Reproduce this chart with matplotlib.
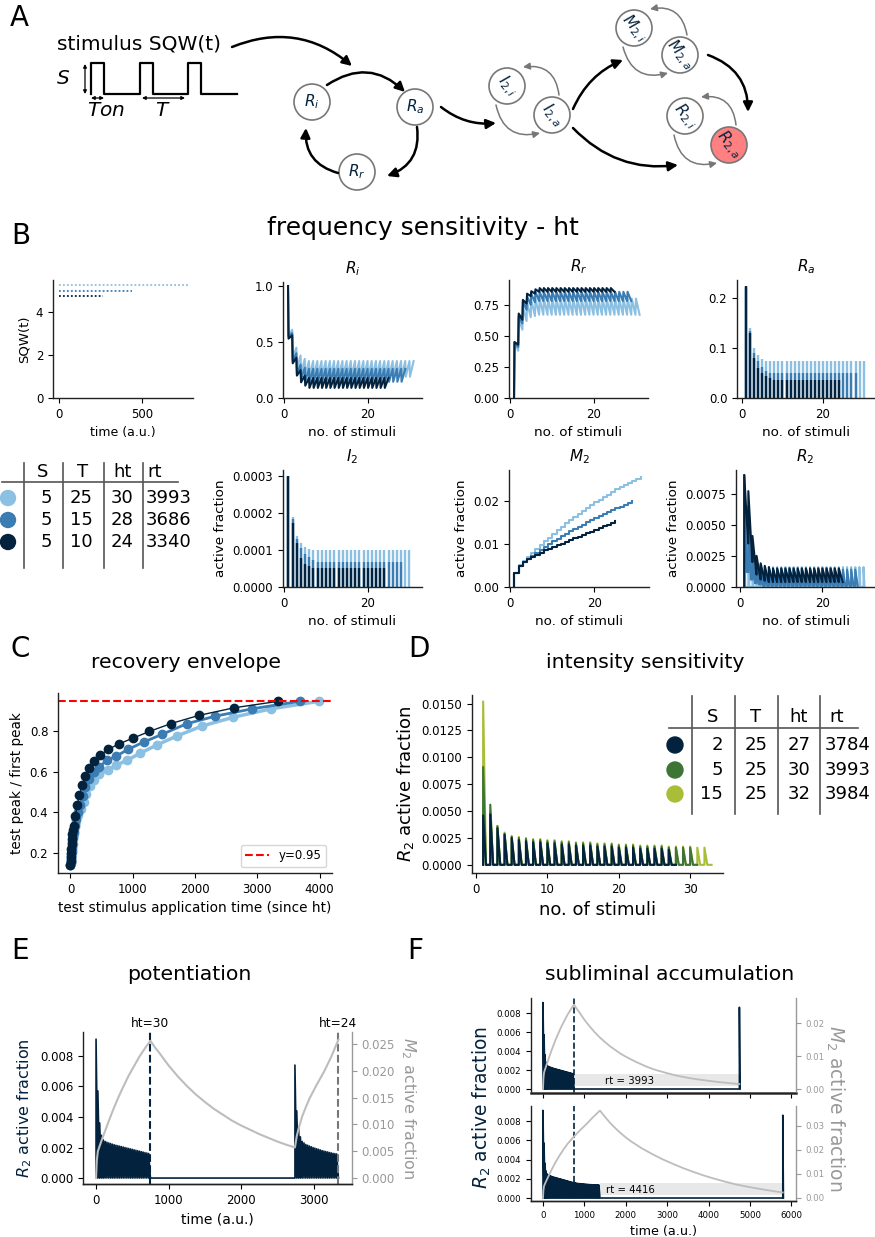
import numpy as np
import matplotlib
matplotlib.use("Agg")
import matplotlib.pyplot as plt
from matplotlib.patches import Circle, FancyArrowPatch, Rectangle
from matplotlib.ticker import FormatStrFormatter

# ---------------- values ----------------
# B : frequency sensitivity  (order: light, mid, dark)
freq_S = [5, 5, 5]
freq_T = [25, 15, 10]
freq_ht = [30, 28, 24]
freq_rt = [3993, 3686, 3340]
sqw_end = [775, 440, 265]

ri_hi = [[1.0, 0.61, 0.45, 0.38, 0.35] + [0.33] * 26,
         [1.0, 0.58, 0.40, 0.30, 0.27] + [0.26] * 24,
         [1.0, 0.56, 0.36, 0.25, 0.20] + [0.18] * 20]
ri_lo = [[0.56, 0.36, 0.26, 0.21, 0.20] + [0.19] * 25,
         [0.55, 0.33, 0.22, 0.17, 0.15] + [0.145] * 23,
         [0.53, 0.31, 0.20, 0.14, 0.11] + [0.09] * 19]

rr_lo = [[0.0, 0.38, 0.55, 0.62, 0.65, 0.66] + [0.67] * 25,
         [0.0, 0.41, 0.60, 0.71, 0.75, 0.77] + [0.78] * 23,
         [0.0, 0.43, 0.63, 0.76, 0.82, 0.84] + [0.855] * 19]
rr_hi = [[0.45, 0.64, 0.74, 0.77, 0.79] + [0.80] * 25,
         [0.45, 0.66, 0.78, 0.82, 0.84] + [0.855] * 23,
         [0.45, 0.68, 0.79, 0.84, 0.86, 0.875] + [0.885] * 18]

ra_peak = [[0.22, 0.14, 0.10, 0.087, 0.079] + [0.075] * 25,
           [0.222, 0.135, 0.09, 0.075, 0.062, 0.055] + [0.05] * 22,
           [0.225, 0.13, 0.08, 0.06, 0.05, 0.045, 0.04] + [0.036] * 17]

i2_peak = [[0.00030, 0.000188, 0.000138, 0.000118, 0.000108, 0.000103] + [0.0001] * 24,
           [0.00030, 0.000185, 0.00013, 0.000105, 0.000088, 0.00008, 0.000072] + [0.000067] * 21,
           [0.00030, 0.000172, 0.00012, 0.000078, 0.000062, 0.000056, 0.000052] + [0.00005] * 17]

m2_level = [[0.0032, 0.0050, 0.0060, 0.0070, 0.0079, 0.0088, 0.0097, 0.0106, 0.0115, 0.0124,
             0.0132, 0.0140, 0.0148, 0.0156, 0.0163, 0.0170, 0.0177, 0.0184, 0.0191, 0.0197,
             0.0203, 0.0209, 0.0215, 0.0221, 0.0227, 0.0232, 0.0237, 0.0242, 0.0247, 0.0252, 0.0256],
            [0.0032, 0.0049, 0.0058, 0.0066, 0.0073, 0.0080, 0.0087, 0.0094, 0.0100, 0.0106,
             0.0112, 0.0118, 0.0124, 0.0130, 0.0135, 0.0140, 0.0145, 0.0150, 0.0155, 0.0160,
             0.0165, 0.0170, 0.0174, 0.0178, 0.0183, 0.0187, 0.0191, 0.0196, 0.0200],
            [0.0032, 0.0049, 0.0057, 0.0064, 0.0070, 0.0075, 0.0080, 0.0085, 0.0089, 0.0093,
             0.0097, 0.0101, 0.0105, 0.0109, 0.0113, 0.0117, 0.0121, 0.0125, 0.0129, 0.0133,
             0.0137, 0.0141, 0.0145, 0.0149, 0.0153]]

r2_hi = [[0.0090, 0.0048, 0.0027, 0.0021, 0.0018] + [0.0016] * 25,
         [0.0090, 0.0065, 0.0033, 0.0021, 0.0017] + [0.0014] * 23,
         [0.0090, 0.0077, 0.0041, 0.0025, 0.0019, 0.0017, 0.0016] + [0.0015] * 17]
r2_lo = [[0.0] * 30,
         [0.0012, 0.0006, 0.0003, 0.0002] + [0.0001] * 24,
         [0.0035, 0.0020, 0.0010, 0.0006, 0.0005] + [0.0004] * 19]

# C : recovery envelope
rec_t = [[0, 4, 8, 13, 18, 25, 33, 43, 56, 72, 95, 125, 165, 213, 256, 309, 373, 464, 597,
          736, 907, 1120, 1387, 1707, 2107, 2613, 3227, 3993],
         [0, 4, 8, 13, 18, 24, 31, 40, 52, 68, 90, 120, 160, 203, 240, 293, 373, 464, 587,
          736, 923, 1173, 1467, 1867, 2320, 2923, 3686],
         [0, 3, 6, 10, 14, 19, 25, 32, 42, 53, 80, 107, 144, 187, 240, 293, 379, 480, 603,
          784, 997, 1269, 1616, 2059, 2629, 3340]]
rec_y = [[0.14, 0.15, 0.165, 0.18, 0.20, 0.22, 0.245, 0.27, 0.295, 0.325, 0.355, 0.385, 0.415,
          0.449, 0.490, 0.530, 0.560, 0.588, 0.609, 0.633, 0.657, 0.692, 0.733, 0.777, 0.826,
          0.870, 0.912, 0.949],
         [0.14, 0.155, 0.17, 0.19, 0.21, 0.23, 0.255, 0.28, 0.305, 0.335, 0.365, 0.40, 0.435,
          0.481, 0.523, 0.567, 0.600, 0.626, 0.657, 0.678, 0.711, 0.747, 0.785, 0.838, 0.875,
          0.912, 0.949],
         [0.14, 0.16, 0.18, 0.20, 0.22, 0.245, 0.27, 0.295, 0.315, 0.333, 0.383, 0.435, 0.485,
          0.534, 0.580, 0.621, 0.654, 0.683, 0.711, 0.739, 0.766, 0.800, 0.839, 0.879, 0.917,
          0.949]]

# D : intensity sensitivity (order: dark S=2, green S=5, yellow S=15)
int_S = [2, 5, 15]
int_T = [25, 25, 25]
int_ht = [27, 30, 32]
int_rt = [3784, 3993, 3984]
int_peak = [[0.0046, 0.0047, 0.0034, 0.0028, 0.0025, 0.0023, 0.0022, 0.0021, 0.0021, 0.0020,
             0.0020, 0.0019, 0.0019, 0.0018, 0.0018, 0.0018, 0.0017, 0.0017, 0.0017, 0.0016,
             0.0016, 0.0016, 0.0015, 0.0015, 0.0015, 0.0015, 0.0014],
            [0.0091, 0.0056, 0.0036, 0.0029, 0.0026, 0.0025, 0.0024, 0.0023, 0.0023, 0.0022,
             0.0022, 0.0021, 0.0021, 0.0020, 0.0020, 0.0020, 0.0019, 0.0019, 0.0019, 0.0018,
             0.0018, 0.0018, 0.0017, 0.0017, 0.0017, 0.0017, 0.0016, 0.0016, 0.0016, 0.0016],
            [0.0152, 0.0050, 0.0036, 0.0030, 0.0027, 0.0026, 0.0025, 0.0024, 0.0024, 0.0023,
             0.0023, 0.0022, 0.0022, 0.0021, 0.0021, 0.0021, 0.0020, 0.0020, 0.0020, 0.0019,
             0.0019, 0.0019, 0.0018, 0.0018, 0.0018, 0.0018, 0.0017, 0.0017, 0.0017, 0.0017,
             0.0016, 0.0016]]

# E / F : R2 peaks per stimulus (T = 25)
stim_T = 25
block1_peak = [0.0091, 0.0057, 0.0036, 0.0028, 0.0025, 0.0024, 0.00235, 0.0023, 0.00226, 0.00222,
               0.00218, 0.00215, 0.00212, 0.00209, 0.00206, 0.00203, 0.0020, 0.00197, 0.00194,
               0.00191, 0.00188, 0.00185, 0.00182, 0.00179, 0.00176, 0.00173, 0.0017, 0.00167,
               0.00164, 0.00161]
block2_peak = [0.0074, 0.0044, 0.0033, 0.0027, 0.0024, 0.0023, 0.0022, 0.00215, 0.0021, 0.00205,
               0.0020, 0.00196, 0.00192, 0.00188, 0.00184, 0.0018, 0.00177, 0.00174, 0.00171,
               0.00168, 0.00165, 0.00162, 0.0016, 0.00158]
long_extra_peak = [0.00159, 0.00157, 0.00155, 0.00153, 0.00151, 0.0015, 0.00149, 0.00148, 0.00147,
                   0.00146, 0.00145, 0.00144, 0.00143, 0.00142, 0.00141, 0.0014, 0.00139, 0.00139,
                   0.00138, 0.00138, 0.00137, 0.00137, 0.00136, 0.00136, 0.00135]
e_gap = 1993
test_peak = [0.0086, 0.0086]
f_rt = [3993, 4416]

m2_rise_t = [0, 10, 25, 50, 100, 150, 200, 250, 300, 350, 400, 450, 500, 550, 600, 650, 700, 750]
m2_rise_v = [0, 0.0032, 0.0050, 0.0060, 0.0079, 0.0097, 0.0115, 0.0132, 0.0148, 0.0163, 0.0177,
             0.0191, 0.0203, 0.0215, 0.0227, 0.0237, 0.0247, 0.0256]
m2_decay_dt = [0, 60, 125, 250, 375, 500, 625, 750, 875, 1000, 1125, 1250, 1375, 1500, 1625,
               1750, 1875, 1993, 2250, 2500, 2750, 3000, 3250, 3500, 3750, 3993]
m2_decay_v = [0.0256, 0.0244, 0.0233, 0.0210, 0.0190, 0.0172, 0.0156, 0.0142, 0.0129, 0.0118,
              0.0107, 0.0098, 0.0090, 0.0082, 0.0075, 0.0068, 0.0062, 0.0057, 0.0048, 0.0040,
              0.0034, 0.0029, 0.0025, 0.0021, 0.0018, 0.0015]
m2_rise2_dt = [0, 25, 50, 100, 150, 200, 250, 300, 350, 400, 450, 500, 550, 600]
m2_rise2_v = [0.0057, 0.0078, 0.0092, 0.0115, 0.0132, 0.0148, 0.0161, 0.0174, 0.0186, 0.0198,
              0.0212, 0.0226, 0.0242, 0.0258]
fb_rise_t = [0, 10, 25, 50, 100, 200, 300, 400, 500, 600, 750, 900, 1050, 1200, 1375]
fb_rise_v = [0, 0.0032, 0.0050, 0.0060, 0.0079, 0.0115, 0.0148, 0.0177, 0.0203, 0.0227, 0.0256,
             0.0283, 0.0308, 0.0335, 0.0364]
fb_decay_dt = [0, 125, 250, 375, 500, 625, 750, 1000, 1250, 1500, 1750, 2000, 2250, 2500, 2750,
               3000, 3250, 3500, 3750, 4000, 4250, 4416]
fb_decay_v = [0.0364, 0.0337, 0.0312, 0.0290, 0.0270, 0.0252, 0.0236, 0.0208, 0.0184, 0.0162,
              0.0143, 0.0125, 0.0109, 0.0094, 0.0081, 0.0069, 0.0058, 0.0049, 0.0041, 0.0034,
              0.0027, 0.0023]

# ---------------- style ----------------
BLUES = ['#8cc0e2', '#3b7cb3', '#03223d']
GREENS = ['#03223d', '#3e7434', '#a9bd37']
NAVY = '#03223d'
GRAY = '#999999'
MGRAY = '#bdbdbd'

plt.rcParams.update({
    'axes.spines.top': False, 'axes.spines.right': False,
    'axes.edgecolor': '#222222', 'axes.linewidth': 1.0,
    'xtick.labelsize': 8.5, 'ytick.labelsize': 8.5,
    'xtick.major.size': 3.5, 'ytick.major.size': 3.5,
})

W, H = 875, 1237
fig = plt.figure(figsize=(W / 100, H / 100), dpi=100)


def px_axes(x0, y0, x1, y1):
    return fig.add_axes([x0 / W, 1 - y1 / H, (x1 - x0) / W, (y1 - y0) / H])


def ftext(x, y, s, **kw):
    fig.text(x / W, 1 - y / H, s, **kw)


def jumps(before, after, d=0.12):
    # value jumps at each stimulus k, then drifts until the next one
    xs, ys = [], []
    for k in range(len(after)):
        xs += [k + 1, k + 1 + d]
        ys += [before[k], after[k]]
    xs.append(len(after) + 1)
    ys.append(before[len(after)])
    return xs, ys


def pulses(t, peaks, lows, w):
    xs, ys = [], []
    prev = 0.0
    for tk, pk, lk in zip(t, peaks, lows):
        xs += [tk, tk, tk + w]
        ys += [prev, pk, lk]
        prev = lk
    return xs, ys


# ---------------- A : scheme ----------------
ftext(10, 18, 'A', fontsize=20, va='center')
ftext(57, 44, 'stimulus SQW(t)', fontsize=14.5, va='center')
ftext(63, 78, '$S$', fontsize=14.5, va='center', ha='center')
ftext(106, 110, '$Ton$', fontsize=14.5, va='center', ha='center')
ftext(163, 110, '$T$', fontsize=14.5, va='center', ha='center')

# ---------------- B ----------------
ftext(11, 236, 'B', fontsize=20, va='center')
ftext(423, 228, 'frequency sensitivity - ht', fontsize=18, va='center', ha='center')

ax = px_axes(53, 280, 193, 398)
for i, off in enumerate([0.25, 0.0, -0.25]):
    ax.plot([0, sqw_end[i]], [freq_S[i] + off] * 2, ls=(0, (1, 1.2)), lw=1.3, color=BLUES[i])
ax.set_xlim(-36, 807)
ax.set_ylim(0, 5.5)
ax.set_xticks([0, 500])
ax.set_yticks([0, 2, 4])
ax.set_xlabel('time (a.u.)', fontsize=9)
ax.set_ylabel('SQW(t)', fontsize=9.5)

ax = px_axes(283, 282, 422, 398)
for i in range(3):
    xs, ys = jumps(ri_hi[i], ri_lo[i])
    ax.plot(xs, ys, color=BLUES[i], lw=1.5)
ax.set_xlim(-0.2, 33)
ax.set_ylim(0, 1.036)
ax.set_yticks([0, 0.5, 1.0])
ax.yaxis.set_major_formatter(FormatStrFormatter('%.1f'))
ax.set_title('$R_i$', fontsize=11)
ax.set_xlabel('no. of stimuli', fontsize=9.7)

ax = px_axes(509, 280, 648, 398)
for i in range(3):
    xs, ys = jumps(rr_lo[i], rr_hi[i])
    ax.plot(xs, ys, color=BLUES[i], lw=1.5)
ax.set_ylim(0, 0.95)
ax.set_xlim(-0.2, 33)
ax.set_yticks([0, 0.25, 0.5, 0.75])
ax.yaxis.set_major_formatter(FormatStrFormatter('%.2f'))
ax.set_title('$R_r$', fontsize=11)
ax.set_xlabel('no. of stimuli', fontsize=9.7)

ax = px_axes(737, 280, 875, 398)
for i in range(3):
    k = np.arange(1, len(ra_peak[i]) + 1)
    ax.vlines(k, 0, ra_peak[i], color=BLUES[i], lw=1.7)
ax.set_xlim(-1.2, 32.8)
ax.set_ylim(0, 0.236)
ax.set_yticks([0, 0.1, 0.2])
ax.yaxis.set_major_formatter(FormatStrFormatter('%.1f'))
ax.set_title('$R_a$', fontsize=11)
ax.set_xlabel('no. of stimuli', fontsize=9.7)

ax = px_axes(283, 470, 422, 587)
for i in range(3):
    k = np.arange(1, len(i2_peak[i]) + 1)
    ax.vlines(k, 0, i2_peak[i], color=BLUES[i], lw=1.7)
ax.set_xlim(-0.3, 33)
ax.set_ylim(0, 0.000316)
ax.set_yticks([0, 0.0001, 0.0002, 0.0003])
ax.yaxis.set_major_formatter(FormatStrFormatter('%.4f'))
ax.set_title('$I_2$', fontsize=11)
ax.set_xlabel('no. of stimuli', fontsize=9.7)
ax.set_ylabel('active fraction', fontsize=9.7)

ax = px_axes(509, 470, 649, 587)
for i in range(3):
    k = np.arange(1, len(m2_level[i]) + 1)
    ax.step(np.r_[1, k], np.r_[0, m2_level[i]], where='post', color=BLUES[i], lw=1.5)
ax.set_xlim(-0.3, 33)
ax.set_ylim(0, 0.0272)
ax.set_yticks([0, 0.01, 0.02])
ax.yaxis.set_major_formatter(FormatStrFormatter('%.2f'))
ax.set_title('$M_2$', fontsize=11)
ax.set_xlabel('no. of stimuli', fontsize=9.7)
ax.set_ylabel('active fraction', fontsize=9.7)

ax = px_axes(736, 470, 875, 587)
for i, w in enumerate([0.25, 0.6, 0.95]):
    k = np.arange(1, len(r2_hi[i]) + 1)
    xs, ys = pulses(k, r2_hi[i], r2_lo[i], w)
    ax.plot(xs, ys, color=BLUES[i], lw=1.5)
ax.set_xlim(-1, 32.8)
ax.set_ylim(0, 0.0094)
ax.set_yticks([0, 0.0025, 0.005, 0.0075])
ax.yaxis.set_major_formatter(FormatStrFormatter('%.4f'))
ax.set_title('$R_2$', fontsize=11)
ax.set_xlabel('no. of stimuli', fontsize=9.7)
ax.set_ylabel('active fraction', fontsize=9.7)

# ---------------- C ----------------
ftext(11, 649, 'C', fontsize=20, va='center')
ftext(186, 662, 'recovery envelope', fontsize=14.7, va='center', ha='center')
ax = px_axes(58, 693, 332, 873)
for i, lw in enumerate([2.5, 2.0, 1.0]):
    ax.plot(rec_t[i], rec_y[i], color=BLUES[i], lw=lw)
    ax.plot(rec_t[i], rec_y[i], 'o', color=BLUES[i], ms=6)
ax.axhline(0.95, color='red', ls='--', lw=1.5, label='y=0.95')
ax.set_xlim(-200, 4200)
ax.set_ylim(0.10, 0.99)
ax.set_xticks([0, 1000, 2000, 3000, 4000])
ax.set_yticks([0.2, 0.4, 0.6, 0.8])
ax.set_xlabel('test stimulus application time (since ht)', fontsize=9.8)
ax.set_ylabel('test peak / first peak', fontsize=9.8)
ax.legend(loc='lower right', fontsize=8.5)

# ---------------- D ----------------
ftext(408, 649, 'D', fontsize=20, va='center')
ftext(645, 662, 'intensity sensitivity', fontsize=14.7, va='center', ha='center')
ax = px_axes(472, 695, 723, 873)
for i in [2, 1, 0]:
    k = np.arange(1, len(int_peak[i]) + 1)
    xs, ys = pulses(k, int_peak[i], [0.0] * len(k), 0.4)
    xs.append(int_ht[i] + 1)
    ys.append(0.0)
    ax.plot(xs, ys, color=GREENS[i], lw=1.5)
ax.set_xlim(-0.56, 34.6)
ax.set_ylim(-0.00076, 0.0158)
ax.set_xticks([0, 10, 20, 30])
ax.set_yticks(np.arange(0, 0.016, 0.0025))
ax.yaxis.set_major_formatter(FormatStrFormatter('%.4f'))
ax.set_xlabel('no. of stimuli', fontsize=13)
ax.set_ylabel('$R_2$ active fraction', fontsize=13)

# ---------------- E ----------------
ftext(11, 951, 'E', fontsize=20, va='center')
ftext(189, 974, 'potentiation', fontsize=14.7, va='center', ha='center')
ax = px_axes(83, 1032, 352, 1184)
t1 = np.arange(len(block1_peak)) * stim_T
end1 = len(block1_peak) * stim_T
start2 = end1 + e_gap
t2 = start2 + np.arange(len(block2_peak)) * stim_T
end2 = start2 + len(block2_peak) * stim_T
xs1, ys1 = pulses(t1, block1_peak, [0.0] * len(t1), stim_T)
xs2, ys2 = pulses(t2, block2_peak, [0.0] * len(t2), stim_T)
ax.plot(xs1 + [start2] + xs2, ys1 + [0.0] + ys2, color=NAVY, lw=1.2)
ax.axvline(end1, color=NAVY, ls='--', lw=1.5)
ax.axvline(end2, color='#777777', ls='--', lw=1.5)
ax.text(end1, 1.01, 'ht=%d' % len(block1_peak), transform=ax.get_xaxis_transform(),
        ha='center', va='bottom', fontsize=8.8)
ax.text(end2, 1.01, 'ht=%d' % len(block2_peak), transform=ax.get_xaxis_transform(),
        ha='center', va='bottom', fontsize=8.8)
ax.set_xlim(-180, 3530)
ax.set_ylim(-0.00039, 0.00957)
ax.set_xticks([0, 1000, 2000, 3000])
ax.set_yticks([0, 0.002, 0.004, 0.006, 0.008])
ax.yaxis.set_major_formatter(FormatStrFormatter('%.3f'))
ax.set_xlabel('time (a.u.)', fontsize=10)
ax.set_ylabel('$R_2$ active fraction', fontsize=11.5, color=NAVY)
ax2 = ax.twinx()
n_gap = sum(1 for d in m2_decay_dt if d <= e_gap)
m2_t = m2_rise_t + [end1 + d for d in m2_decay_dt[:n_gap]] + [start2 + d for d in m2_rise2_dt]
m2_v = m2_rise_v + m2_decay_v[:n_gap] + m2_rise2_v
ax2.plot(m2_t, m2_v, color=MGRAY, lw=1.5)
ax2.spines['right'].set_visible(True)
ax2.spines['right'].set_color(GRAY)
ax2.spines['left'].set_visible(False)
ax2.tick_params(axis='y', colors=GRAY)
ax2.set_ylim(-0.00112, 0.02724)
ax2.set_yticks([0, 0.005, 0.01, 0.015, 0.02, 0.025])
ax2.yaxis.set_major_formatter(FormatStrFormatter('%.3f'))
ax2.set_ylabel('$M_2$ active fraction', fontsize=11.5, color=GRAY, rotation=270, labelpad=16)

# ---------------- F ----------------
ftext(407, 951, 'F', fontsize=20, va='center')
ftext(670, 974, 'subliminal accumulation', fontsize=14.7, va='center', ha='center')
fpeaks = [block1_peak, block1_peak + long_extra_peak]
frise = [(m2_rise_t, m2_rise_v), (fb_rise_t, fb_rise_v)]
fdecay = [(m2_decay_dt, m2_decay_v), (fb_decay_dt, fb_decay_v)]
fboxes = [(998, 1093), (1106, 1201)]
fylims = [((-0.00042, 0.00958), (-0.0012, 0.0276)), ((-0.00031, 0.00956), (-0.00125, 0.0383))]
fright_ticks = [[0, 0.01, 0.02], [0, 0.01, 0.02, 0.03]]
for j in range(2):
    y0, y1 = fboxes[j]
    ax = px_axes(531, y0, 796, y1)
    pk = fpeaks[j]
    t = np.arange(len(pk)) * stim_T
    end = len(pk) * stim_T
    test_t = end + f_rt[j]
    xs, ys = pulses(t, pk, [0.0] * len(t), stim_T)
    xs += [test_t, test_t, test_t + 15]
    ys += [0.0, test_peak[j], 0.0]
    ax.plot(xs, ys, color=NAVY, lw=1.2)
    ax.add_patch(Rectangle((end, 0.0003), f_rt[j], 0.0013, color='#e8e8e8', zorder=0, lw=0))
    ax.text(2100, 0.00085, 'rt = %d' % f_rt[j], ha='center', va='center', fontsize=7.3)
    ax.plot([len(block1_peak) * stim_T] * 2, [0.0017 if j else fylims[j][0][0], fylims[j][0][1]],
            color=NAVY, ls='--', lw=1.2)
    ax.set_xlim(-290, 6110)
    ax.set_ylim(*fylims[j][0])
    ax.set_xticks(np.arange(0, 6001, 1000))
    ax.set_yticks([0, 0.002, 0.004, 0.006, 0.008])
    ax.yaxis.set_major_formatter(FormatStrFormatter('%.3f'))
    ax.tick_params(labelsize=6.2)
    if j == 0:
        ax.tick_params(axis='x', labelbottom=False)
        ax.spines['bottom'].set_linewidth(1.8)
        ax.spines['bottom'].set_color('#444444')
    else:
        ax.set_xlabel('time (a.u.)', fontsize=9.2)
    ax2 = ax.twinx()
    rt_, rv_ = frise[j]
    dt_, dv_ = fdecay[j]
    ax2.plot(list(rt_) + [end + d for d in dt_], list(rv_) + list(dv_), color=MGRAY, lw=1.3)
    ax2.spines['right'].set_visible(True)
    ax2.spines['right'].set_color(GRAY)
    ax2.spines['left'].set_visible(False)
    ax2.tick_params(axis='y', colors=GRAY, labelsize=6.2)
    ax2.set_ylim(*fylims[j][1])
    ax2.set_yticks(fright_ticks[j])
    ax2.yaxis.set_major_formatter(FormatStrFormatter('%.2f'))
ftext(482, 1107, '$R_2$ active fraction', fontsize=13.5, color=NAVY, rotation=90,
      va='center', ha='center')
ftext(835, 1108, '$M_2$ active fraction', fontsize=13.5, color=GRAY, rotation=270,
      va='center', ha='center')

# ---------------- overlay: scheme arrows, circles and tables ----------------
ov = fig.add_axes([0, 0, 1, 1])
ov.set_xlim(0, W)
ov.set_ylim(H, 0)
ov.axis('off')

# square wave sketch
x0, ton, per, lo, hi = 91, 13, 48.5, 94, 63
wx, wy = [], []
for i in range(3):
    xa = x0 + i * per
    wx += [xa, xa, xa + ton, xa + ton]
    wy += [lo, hi, hi, lo]
wx.append(237)
wy.append(lo)
ov.plot(wx, wy, color='k', lw=1.6)


def arrow(p, q, rad, color='k', lw=1.8, style='-|>', ms=14):
    ov.add_patch(FancyArrowPatch(p, q, connectionstyle='arc3,rad=%s' % rad, arrowstyle=style,
                                 mutation_scale=ms, lw=lw, color=color, shrinkA=0, shrinkB=0))


arrow((85, 64), (85, 94), 0, lw=0.9, style='<|-|>', ms=5)
arrow((91, 98), (104, 98), 0, lw=0.9, style='<|-|>', ms=5)
arrow((142, 98), (185, 98), 0, lw=0.9, style='<|-|>', ms=5)

nodes = {'Ri': (312, 102, '$R_i$', 0), 'Ra': (415, 107, '$R_a$', 0), 'Rr': (357, 172, '$R_r$', 0),
         'I2i': (507, 86, '$I_{2,i}$', -50), 'I2a': (552, 115, '$I_{2,a}$', -50),
         'M2i': (634, 28, '$M_{2,i}$', -50), 'M2a': (680, 55, '$M_{2,a}$', -50),
         'R2i': (685, 116, '$R_{2,i}$', -50), 'R2a': (729, 145, '$R_{2,a}$', -50)}
for key, (cx, cy, lab, rot) in nodes.items():
    fc = '#ff8080' if key == 'R2a' else 'white'
    ov.add_patch(Circle((cx, cy), 18, facecolor=fc, edgecolor='#777777', lw=1.2))
    ov.text(cx, cy, lab, ha='center', va='center', fontsize=11,
            color=NAVY, rotation=rot)

arrow((232, 47), (352, 66), -0.3)
arrow((327, 85), (405, 92), -0.4)
arrow((417, 127), (387, 176), -0.4)
arrow((338, 173), (306, 128), -0.4)
arrow((441, 107), (496, 123), 0.2)
arrow((573, 109), (623, 60), -0.2)
arrow((573, 128), (678, 165), 0.25)
arrow((708, 55), (748, 112), -0.35)
for (a, b) in [('I2i', 'I2a'), ('M2i', 'M2a'), ('R2i', 'R2a')]:
    ax_, ay_ = nodes[a][:2]
    bx_, by_ = nodes[b][:2]
    arrow((bx_ + 7, by_ - 20), (ax_ + 16, ay_ - 19), 0.5, color='#777777', lw=1.1, ms=10)
    arrow((ax_ - 11, ay_ + 19), (bx_ - 12, by_ + 18), 0.5, color='#777777', lw=1.1, ms=10)


def table(xl, ytop, ybot, hy, hx0, hx1, head, head_y, cols, rows_y, dot_x, dot_r,
          colors, values):
    for x in xl:
        ov.plot([x, x], [ytop, ybot], color='#555555', lw=1.2)
    ov.plot([hx0, hx1], [hy, hy], color='#555555', lw=1.2)
    for (txt, (hx, ha)) in zip(head, cols[0]):
        ov.text(hx, head_y, txt, ha=ha, va='center', fontsize=13)
    for r, yy in enumerate(rows_y):
        ov.add_patch(Circle((dot_x, yy), dot_r, color=colors[r]))
        for c, (vx, ha) in enumerate(cols[1]):
            ov.text(vx, yy, str(values[c][r]), ha=ha, va='center', fontsize=13)


table([24, 63, 104, 143], 463, 568, 482, 2, 178, ['S', 'T', 'ht', 'rt'], 472,
      ([(43, 'center'), (83, 'center'), (123, 'center'), (147, 'left')],
       [(52, 'right'), (81, 'center'), (122, 'center'), (146, 'left')]),
      [498, 520, 542], 8, 7.5, BLUES, [freq_S, freq_T, freq_ht, freq_rt])
table([692, 735, 778, 820], 696, 814, 728, 669, 858, ['S', 'T', 'ht', 'rt'], 717,
      ([(713, 'center'), (756, 'center'), (799, 'center'), (829, 'left')],
       [(723, 'right'), (756, 'center'), (799, 'center'), (825, 'left')]),
      [745, 770, 794], 675, 8, GREENS, [int_S, int_T, int_ht, int_rt])

fig.savefig('out.png', dpi=100)
